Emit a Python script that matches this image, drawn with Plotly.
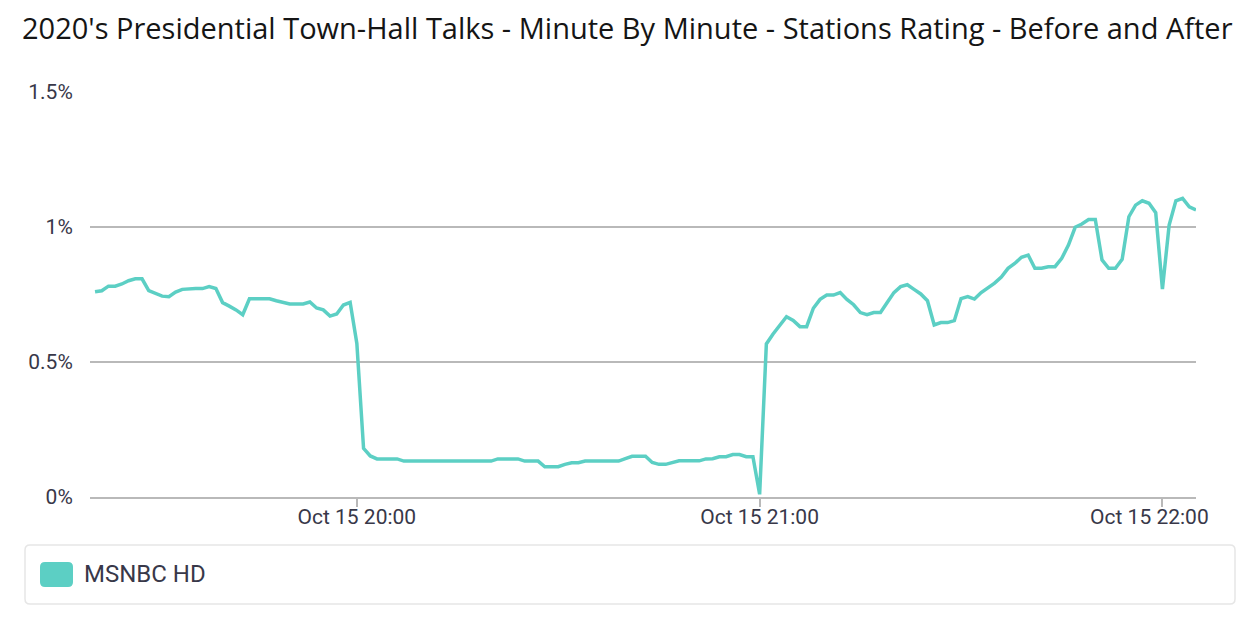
import pandas as pd
import plotly.graph_objects as go

title = "2020's Presidential Town-Hall Talks - Minute By Minute - Stations Rating - Before and After"
series_name = "MSNBC HD"
start_time = "2020-10-15 19:21"
rating_pct = [
    0.760, 0.764, 0.781, 0.781, 0.789, 0.801, 0.808, 0.808, 0.764, 0.754,
    0.744, 0.742, 0.759, 0.769, 0.772, 0.772, 0.772, 0.779, 0.772, 0.720,
    0.707, 0.693, 0.675, 0.734, 0.734, 0.734, 0.734, 0.727, 0.720, 0.715,
    0.715, 0.715, 0.722, 0.700, 0.693, 0.670, 0.678, 0.711, 0.721, 0.569,
    0.180, 0.152, 0.141, 0.141, 0.141, 0.141, 0.133, 0.133, 0.133, 0.133,
    0.133, 0.133, 0.133, 0.133, 0.133, 0.133, 0.133, 0.133, 0.133, 0.133,
    0.141, 0.141, 0.141, 0.141, 0.133, 0.133, 0.133, 0.112, 0.112, 0.112,
    0.121, 0.127, 0.127, 0.133, 0.133, 0.133, 0.133, 0.133, 0.133, 0.142,
    0.151, 0.151, 0.151, 0.128, 0.121, 0.121, 0.128, 0.134, 0.134, 0.134,
    0.134, 0.141, 0.142, 0.149, 0.149, 0.157, 0.157, 0.149, 0.149, 0.010,
    0.567, 0.604, 0.637, 0.668, 0.654, 0.631, 0.631, 0.699, 0.732, 0.748,
    0.748, 0.757, 0.732, 0.712, 0.683, 0.675, 0.683, 0.683, 0.720, 0.757,
    0.779, 0.786, 0.769, 0.752, 0.727, 0.637, 0.646, 0.646, 0.653, 0.735,
    0.742, 0.733, 0.757, 0.773, 0.792, 0.815, 0.847, 0.865, 0.888, 0.896,
    0.847, 0.847, 0.853, 0.853, 0.884, 0.933, 0.999, 1.011, 1.028, 1.028,
    0.878, 0.847, 0.847, 0.880, 1.038, 1.081, 1.097, 1.088, 1.053, 0.770,
    1.007, 1.097, 1.106, 1.075, 1.063,
]
x_tick_vals = ["2020-10-15 20:00", "2020-10-15 21:00", "2020-10-15 22:00"]
x_tick_text = ["Oct 15 20:00", "Oct 15 21:00", "Oct 15 22:00"]
y_tick_vals = [0, 0.5, 1, 1.5]
y_tick_text = ["0%", "0.5%", "1%", "1.5%"]

times = pd.date_range(start=start_time, periods=len(rating_pct), freq="min")

# the last x label is nudged left (kept inside the chart) by padding it with no-break spaces
x_tick_shown = x_tick_text[:-1] + [x_tick_text[-1] + "\u00a0" * 5]

LINE = "#5ccfc4"
GRID = "#b9b9b9"
TXT = "#383849"
OFF = 8  # page body margin
W, H = 1242, 612
ML, MT = 90 - OFF, 92 - OFF
MR = W + OFF - 1196
MB = H + OFF - 497
PW, PH = W - ML - MR, H - MT - MB


def px_x(p):
    return (p - OFF - ML) / PW


def px_y(p):
    return (H - MB - (p - OFF)) / PH


def rrect(x0, y0, x1, y1, r):
    rx, ry = r / PW, r / PH
    a, b, c, d = px_x(x0), px_y(y0), px_x(x1), px_y(y1)
    return (f"M{a+rx},{b} L{c-rx},{b} Q{c},{b} {c},{b-ry} L{c},{d+ry} Q{c},{d} {c-rx},{d} "
            f"L{a+rx},{d} Q{a},{d} {a},{d+ry} L{a},{b-ry} Q{a},{b} {a+rx},{b} Z")


fig = go.Figure()
fig.add_trace(go.Scatter(x=times, y=rating_pct, mode="lines", name=series_name,
                         line=dict(color=LINE, width=3.5), showlegend=False))

fig.update_layout(
    width=W, height=H,
    margin=dict(l=ML, r=MR, t=MT, b=MB),
    paper_bgcolor="white", plot_bgcolor="white",
    font=dict(family="Roboto", color=TXT, size=21),
    title=dict(text=title, x=(22 - OFF) / W, xanchor="left", y=1 - (29 - OFF) / H,
               yanchor="middle", yref="container",
               font=dict(family="Open Sans", size=29, color="#151515")),
    xaxis=dict(range=["2020-10-15 19:20:15", "2020-10-15 22:05"],
               tickvals=x_tick_vals, ticktext=x_tick_shown, showgrid=False,
               showline=True, linecolor=GRID, linewidth=1.5, ticks="outside",
               ticklen=8, tickwidth=1.5, tickcolor=GRID, zeroline=False,
               ticklabelstandoff=-8,
               tickfont=dict(family="Roboto", size=21, color=TXT)),
    yaxis=dict(range=[0, 1.5], tickvals=y_tick_vals, ticktext=y_tick_text,
               showgrid=True, gridcolor=GRID, gridwidth=1.5, zeroline=False,
               showline=False, ticks="outside", ticklen=12,
               tickcolor="rgba(0,0,0,0)",
               tickfont=dict(family="Roboto", size=21, color=TXT)),
    shapes=[
        dict(type="path", xref="paper", yref="paper", path=rrect(25, 545, 1235, 604, 5),
             line=dict(color="#e6e6e6", width=1.5), fillcolor="white"),
        dict(type="path", xref="paper", yref="paper", path=rrect(40, 562, 73, 587, 5),
             line=dict(width=0), fillcolor=LINE),
    ],
    annotations=[
        dict(text=series_name, xref="paper", yref="paper", x=px_x(82), y=px_y(574),
             xanchor="left", yanchor="middle", showarrow=False,
             font=dict(family="Roboto", size=24, color=TXT)),
    ],
)

fig.write_html("out.html")
